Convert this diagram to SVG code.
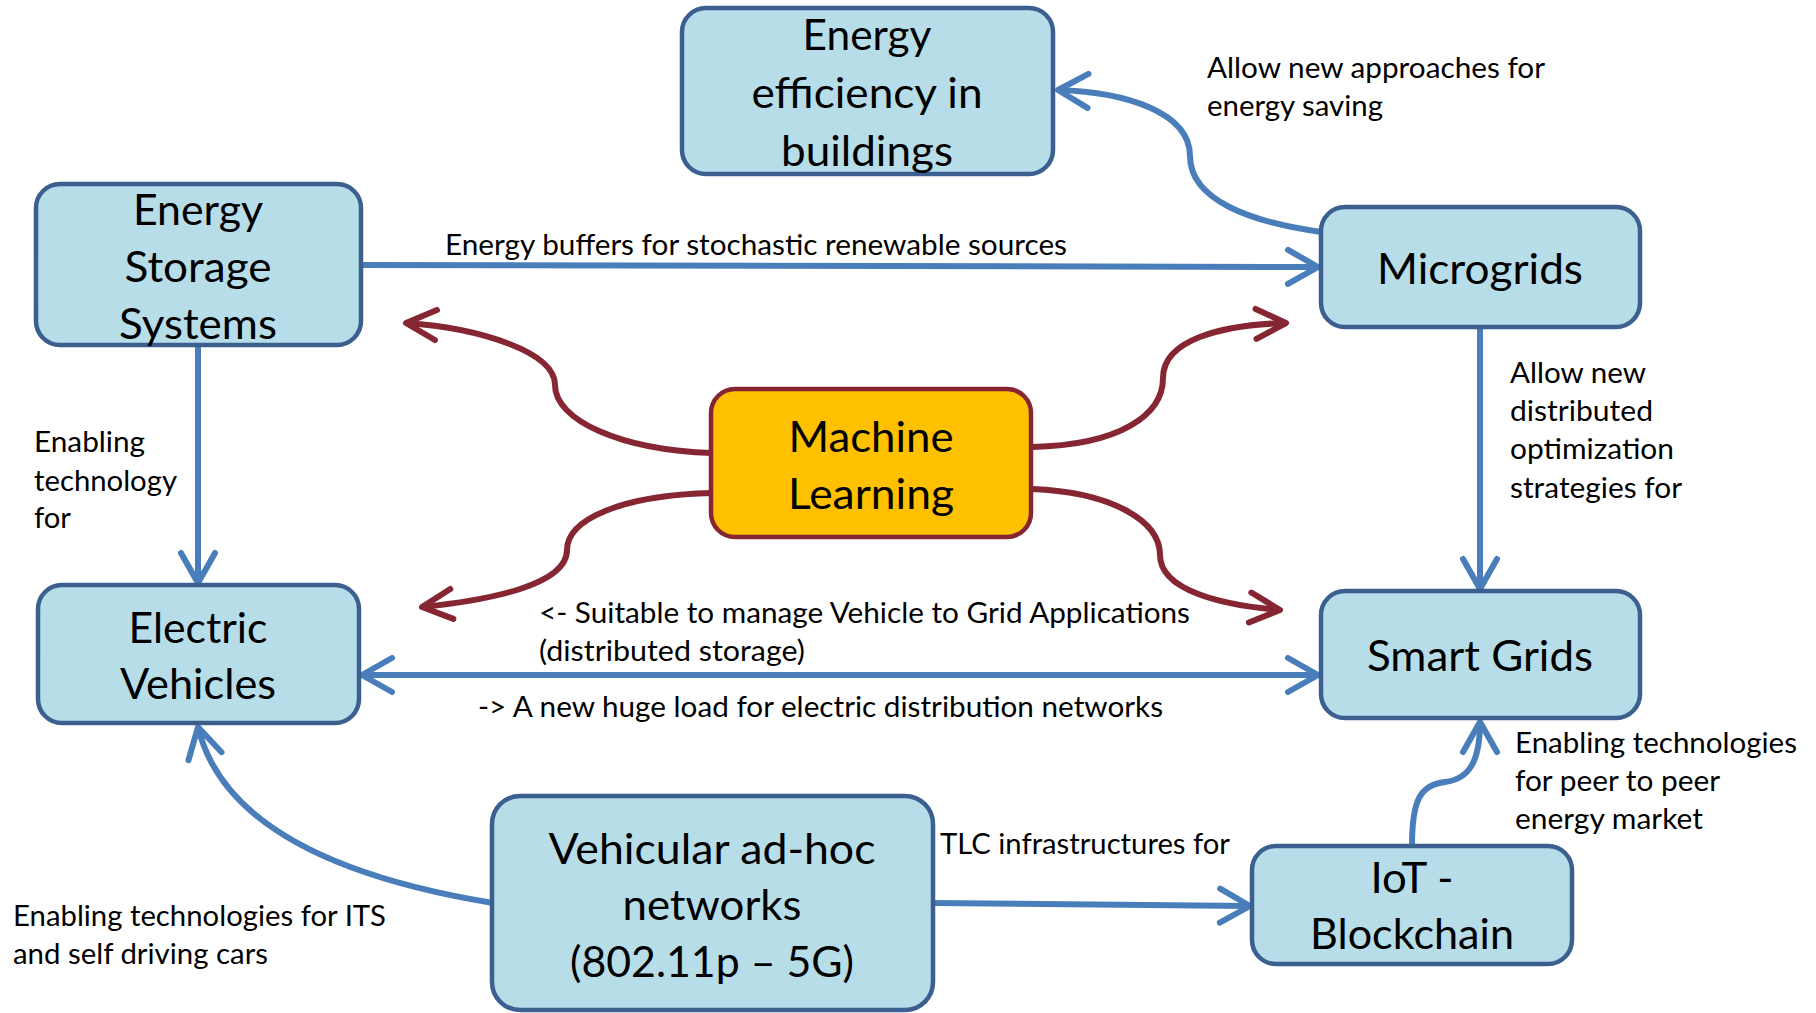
<svg xmlns="http://www.w3.org/2000/svg" width="1816" height="1013" viewBox="0 0 1816 1013">
<style>
.box{fill:#B7DDE8;stroke:#3B6090;stroke-width:4.5}
.ml{fill:#FFC000;stroke:#862633;stroke-width:4.5}
.bt{font-family:Lato,"Open Sans",sans-serif;font-size:42px;fill:#000;text-anchor:middle}
.st{font-family:Lato,"Open Sans",sans-serif;font-size:29px;fill:#000}
.cb{fill:none;stroke:#4A7EBB;stroke-width:6}
.cm{fill:none;stroke:#862633;stroke-width:6}
</style>
<defs>
<marker id="ab" markerUnits="userSpaceOnUse" viewBox="-40 -24 48 48" refX="0" refY="0" markerWidth="48" markerHeight="48" orient="auto-start-reverse">
<path d="M-30,-17 L0,0 L-30,17" fill="none" stroke="#4A7EBB" stroke-width="6" stroke-linecap="round" stroke-linejoin="round"/>
</marker>
<marker id="am" markerUnits="userSpaceOnUse" viewBox="-40 -24 48 48" refX="0" refY="0" markerWidth="48" markerHeight="48" orient="auto">
<path d="M-30,-15 L0,0 L-30,15" fill="none" stroke="#862633" stroke-width="6" stroke-linecap="round" stroke-linejoin="round"/>
</marker>
</defs>
<rect width="1816" height="1013" fill="#fff"/>
<g id="connectors">
<path class="cb" d="M361,265 L1318,267" marker-end="url(#ab)"/>
<path class="cb" d="M1321,232 C1250,222 1190,200 1190,156 C1190,112 1125,92 1058,90" marker-end="url(#ab)"/>
<path class="cb" d="M1480,327 L1480,589" marker-end="url(#ab)"/>
<path class="cb" d="M198,345 L198,583" marker-end="url(#ab)"/>
<path class="cb" d="M362,675 L1318,675" marker-start="url(#ab)" marker-end="url(#ab)"/>
<path class="cb" d="M493,903 Q230,860 198,727" marker-end="url(#ab)"/>
<path class="cb" d="M933,903 L1250,906" marker-end="url(#ab)"/>
<path class="cb" d="M1412,846 C1412,800 1420,785 1445,782 C1470,779 1480,760 1480,722" marker-end="url(#ab)"/>
<path class="cm" d="M712,453 C620,450 555,420 555,385 C555,352 480,328 406,323" marker-end="url(#am)"/>
<path class="cm" d="M713,493 C620,495 567,520 567,550 C567,585 490,600 422,607" marker-end="url(#am)"/>
<path class="cm" d="M1032,447 C1120,445 1163,415 1163,378 C1163,340 1220,325 1286,323" marker-end="url(#am)"/>
<path class="cm" d="M1032,489 C1110,492 1160,520 1160,555 C1160,590 1220,605 1280,610" marker-end="url(#am)"/>
<text class="st" x="445" y="255" textLength="622" lengthAdjust="spacingAndGlyphs">Energy buffers for stochastic renewable sources</text>
<text class="st" x="1207" y="78" textLength="338" lengthAdjust="spacingAndGlyphs">Allow new approaches for</text>
<text class="st" x="1207" y="116" textLength="176" lengthAdjust="spacingAndGlyphs">energy saving</text>
<text class="st" x="1510" y="383" textLength="136" lengthAdjust="spacingAndGlyphs">Allow new</text>
<text class="st" x="1510" y="421" textLength="143" lengthAdjust="spacingAndGlyphs">distributed</text>
<text class="st" x="1510" y="459" textLength="164" lengthAdjust="spacingAndGlyphs">optimization</text>
<text class="st" x="1510" y="498" textLength="172" lengthAdjust="spacingAndGlyphs">strategies for</text>
<text class="st" x="34" y="452" textLength="111" lengthAdjust="spacingAndGlyphs">Enabling</text>
<text class="st" x="34" y="491" textLength="143" lengthAdjust="spacingAndGlyphs">technology</text>
<text class="st" x="34" y="528" textLength="37" lengthAdjust="spacingAndGlyphs">for</text>
<text class="st" x="539" y="623" textLength="651" lengthAdjust="spacingAndGlyphs">&lt;- Suitable to manage Vehicle to Grid Applications</text>
<text class="st" x="539" y="661" textLength="266" lengthAdjust="spacingAndGlyphs">(distributed storage)</text>
<text class="st" x="478" y="717" textLength="685" lengthAdjust="spacingAndGlyphs">-&gt; A new huge load for electric distribution networks</text>
<text class="st" x="940" y="854" textLength="290" lengthAdjust="spacingAndGlyphs">TLC infrastructures for</text>
<text class="st" x="13" y="926" textLength="373" lengthAdjust="spacingAndGlyphs">Enabling technologies for ITS</text>
<text class="st" x="13" y="964" textLength="255" lengthAdjust="spacingAndGlyphs">and self driving cars</text>
<text class="st" x="1515" y="753" textLength="282" lengthAdjust="spacingAndGlyphs">Enabling technologies</text>
<text class="st" x="1515" y="791" textLength="205" lengthAdjust="spacingAndGlyphs">for peer to peer</text>
<text class="st" x="1515" y="829" textLength="188" lengthAdjust="spacingAndGlyphs">energy market</text>
</g>
<g id="node-efficiency">
<rect class="box" x="682" y="8" width="371" height="166" rx="24"/>
<text class="bt" x="867" y="50" textLength="129" lengthAdjust="spacingAndGlyphs">Energy</text>
<text class="bt" x="867" y="108" textLength="231" lengthAdjust="spacingAndGlyphs">efficiency in</text>
<text class="bt" x="867" y="166" textLength="172" lengthAdjust="spacingAndGlyphs">buildings</text>
</g>
<g id="node-storage">
<rect class="box" x="36" y="184" width="325" height="161" rx="24"/>
<text class="bt" x="198" y="225" textLength="130" lengthAdjust="spacingAndGlyphs">Energy</text>
<text class="bt" x="198" y="282" textLength="147" lengthAdjust="spacingAndGlyphs">Storage</text>
<text class="bt" x="198" y="339" textLength="158" lengthAdjust="spacingAndGlyphs">Systems</text>
</g>
<g id="node-microgrids">
<rect class="box" x="1321" y="207" width="319" height="120" rx="24"/>
<text class="bt" x="1480" y="284" textLength="206" lengthAdjust="spacingAndGlyphs">Microgrids</text>
</g>
<g id="node-ml">
<rect class="ml" x="711" y="389" width="320" height="148" rx="24"/>
<text class="bt" x="871" y="452" textLength="165" lengthAdjust="spacingAndGlyphs">Machine</text>
<text class="bt" x="871" y="509" textLength="166" lengthAdjust="spacingAndGlyphs">Learning</text>
</g>
<g id="node-ev">
<rect class="box" x="38" y="585" width="321" height="138" rx="24"/>
<text class="bt" x="198" y="643" textLength="139" lengthAdjust="spacingAndGlyphs">Electric</text>
<text class="bt" x="198" y="699" textLength="156" lengthAdjust="spacingAndGlyphs">Vehicles</text>
</g>
<g id="node-smartgrids">
<rect class="box" x="1321" y="591" width="319" height="127" rx="24"/>
<text class="bt" x="1480" y="671" textLength="226" lengthAdjust="spacingAndGlyphs">Smart Grids</text>
</g>
<g id="node-vanet">
<rect class="box" x="492" y="796" width="441" height="214" rx="28"/>
<text class="bt" x="712" y="864" textLength="327" lengthAdjust="spacingAndGlyphs">Vehicular ad-hoc</text>
<text class="bt" x="712" y="920" textLength="179" lengthAdjust="spacingAndGlyphs">networks</text>
<text class="bt" x="712" y="977" textLength="284" lengthAdjust="spacingAndGlyphs">(802.11p – 5G)</text>
</g>
<g id="node-iot">
<rect class="box" x="1252" y="846" width="320" height="118" rx="24"/>
<text class="bt" x="1412" y="893" textLength="83" lengthAdjust="spacingAndGlyphs">IoT -</text>
<text class="bt" x="1412" y="949" textLength="204" lengthAdjust="spacingAndGlyphs">Blockchain</text>
</g>
</svg>
